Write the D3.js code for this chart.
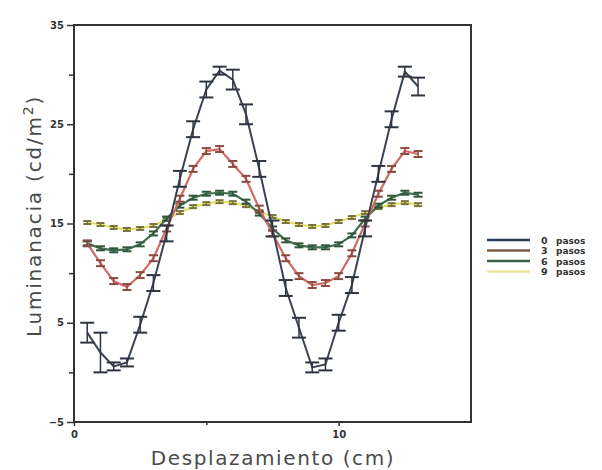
<!DOCTYPE html>
<html><head><meta charset="utf-8">
<script src="https://cdn.jsdelivr.net/npm/d3@7"></script>
<style>body{margin:0;background:#fff}svg{display:block}</style>
</head><body><svg id="c" width="602" height="470"></svg>
<script>
const positions = [0.5,1.0,1.5,2.0,2.5,3.0,3.5,4.0,4.5,5.0,5.5,6.0,6.5,7.0,7.5,8.0,8.5,9.0,9.5,10.0,10.5,11.0,11.5,12.0,12.5,13.0];
const pasos0 = [4.0,2.0,0.6,1.0,4.8,9.0,14.0,19.5,24.5,28.5,30.4,29.5,26.0,20.5,14.5,8.5,4.5,0.5,0.8,5.0,8.8,14.5,20.0,25.5,30.3,28.8];
const err0   = [1.0,2.0,0.4,0.4,0.8,0.8,0.8,0.8,0.8,0.8,0.4,1.0,1.0,0.8,0.8,0.8,1.0,0.5,0.6,0.8,0.8,0.8,0.8,0.8,0.5,0.9];
const pasos3 = [13.0,11.0,9.2,8.6,9.8,11.5,14.5,17.5,20.5,22.3,22.5,21.0,19.5,16.5,14.0,11.5,9.7,8.8,9.0,9.7,12.0,15.0,18.0,20.5,22.3,22.0];
const err3   = [0.3,0.3,0.3,0.3,0.3,0.3,0.3,0.3,0.3,0.3,0.3,0.3,0.3,0.3,0.3,0.3,0.3,0.3,0.3,0.3,0.3,0.3,0.3,0.3,0.3,0.3];
const pasos6 = [13.0,12.5,12.3,12.4,12.9,14.0,15.5,16.8,17.6,18.0,18.1,18.0,17.2,16.0,14.5,13.3,12.8,12.6,12.6,12.9,13.8,15.5,16.8,17.6,18.1,17.9];
const err6   = [0.2,0.2,0.2,0.2,0.2,0.2,0.2,0.2,0.2,0.2,0.2,0.2,0.2,0.2,0.2,0.2,0.2,0.2,0.2,0.2,0.2,0.2,0.2,0.2,0.2,0.2];
const pasos9 = [15.1,14.9,14.6,14.4,14.5,14.8,15.4,16.1,16.7,17.0,17.2,17.1,16.8,16.2,15.7,15.2,14.9,14.7,14.8,15.2,15.6,16.1,16.6,16.9,17.1,16.9];
const err9   = [0.15,0.15,0.15,0.15,0.15,0.15,0.15,0.15,0.15,0.15,0.15,0.15,0.15,0.15,0.15,0.15,0.15,0.15,0.15,0.15,0.15,0.15,0.15,0.15,0.15,0.15];
const seriesNames = ["0","3","6","9"];
const yMajorTicks = [-5,5,15,25,35];
const yMinorTicks = [0,10,20,30];
const xMajorTicks = [0,10];
const xMinorTicks = [5];

const series = [
  {name: seriesNames[0], vals: pasos0, err: err0, color: "#3b4352", cap: "#2e3440", capW: 14, legend: "#2c3e57"},
  {name: seriesNames[1], vals: pasos3, err: err3, color: "#d16b63", cap: "#8a4a40", capW: 9, legend: "#7a5a45"},
  {name: seriesNames[2], vals: pasos6, err: err6, color: "#3f6e4e", cap: "#2f5638", capW: 9, legend: "#3d5f45"},
  {name: seriesNames[3], vals: pasos9, err: err9, color: "#e6df6a", cap: "#77723e", capW: 8, legend: "#ebe79c"}
];

const svg = d3.select("#c");
const L = 74, R = 471, T = 25, B = 422;
const x = d3.scaleLinear().domain([0,15]).range([L,R]);
const y = d3.scaleLinear().domain([-5,35]).range([B,T]);
const font = "'DejaVu Sans', sans-serif";
const txt = "#4a4a4a";

const line = d3.line().x((d,i)=>x(positions[i])).y(d=>y(d));
[3,2,1,0].forEach(si => {
  const s = series[si];
  const g = svg.append("g");
  g.append("path").datum(s.vals).attr("d", line)
    .attr("fill","none").attr("stroke", s.color).attr("stroke-width", si===0?2:2.2);
  s.vals.forEach((v,i) => {
    const px = x(positions[i]);
    const e = s.err[i];
    g.append("line").attr("x1",px).attr("x2",px).attr("y1",y(v-e)).attr("y2",y(v+e))
      .attr("stroke", s.cap).attr("stroke-width",1.5);
    [v-e, v+e].forEach(c => {
      g.append("line").attr("x1",px-s.capW/2).attr("x2",px+s.capW/2)
        .attr("y1",y(c)).attr("y2",y(c)).attr("stroke", s.cap).attr("stroke-width",2);
    });
  });
});

svg.append("rect").attr("x",L).attr("y",T).attr("width",R-L).attr("height",B-T)
  .attr("fill","none").attr("stroke","#333").attr("stroke-width",2);

const yAxis = d3.axisLeft(y).tickValues(yMajorTicks).tickSize(7).tickPadding(3).tickFormat(d3.format("d"));
const gy = svg.append("g").attr("transform",`translate(${L},0)`).call(yAxis);
gy.select(".domain").remove();
gy.selectAll(".tick line").attr("stroke","#333").attr("stroke-width",1.5);
gy.selectAll(".tick text").attr("font-family",font).attr("font-size",10).attr("font-weight","bold").attr("fill","#333");
const yMinor = d3.axisLeft(y).tickValues(yMinorTicks).tickSize(5).tickFormat("");
const gym = svg.append("g").attr("transform",`translate(${L},0)`).call(yMinor);
gym.select(".domain").remove();
gym.selectAll(".tick line").attr("stroke","#333").attr("stroke-width",1.5);

const xAxis = d3.axisBottom(x).tickValues(xMajorTicks).tickSize(4).tickPadding(5).tickFormat(d3.format("d"));
const gx = svg.append("g").attr("transform",`translate(0,${B})`).call(xAxis);
gx.select(".domain").remove();
gx.selectAll(".tick line").attr("stroke","#333").attr("stroke-width",1.5);
gx.selectAll(".tick text").attr("font-family",font).attr("font-size",10).attr("font-weight","bold").attr("fill","#333");
const xMinor = d3.axisBottom(x).tickValues(xMinorTicks).tickSize(3).tickFormat("");
const gxm = svg.append("g").attr("transform",`translate(0,${B})`).call(xMinor);
gxm.select(".domain").remove();
gxm.selectAll(".tick line").attr("stroke","#333").attr("stroke-width",1.5);

svg.append("text").attr("x",273).attr("y",465).attr("text-anchor","middle")
  .attr("font-family",font).attr("font-size",20).attr("letter-spacing",1.6).attr("fill",txt)
  .text("Desplazamiento  (cm)");
const yl = svg.append("text").attr("transform","translate(41,216) rotate(-90)").attr("text-anchor","middle")
  .attr("font-family",font).attr("font-size",20).attr("letter-spacing",1.8).attr("fill",txt);
yl.append("tspan").text("Luminanacia  (cd/m");
yl.append("tspan").attr("font-size",14).attr("dy",-8).text("2");
yl.append("tspan").attr("dy",8).text(")");

const lg = svg.append("g");
series.forEach((s,i) => {
  const ly = 240 + i*10.5;
  lg.append("line").attr("x1",487).attr("x2",530).attr("y1",ly).attr("y2",ly)
    .attr("stroke", s.legend).attr("stroke-width",2.5);
  lg.append("text").attr("x",541).attr("y",ly+3.5).attr("font-family",font).attr("font-size",9.5)
    .attr("font-weight","bold").attr("fill","#333").text(s.name);
  lg.append("text").attr("x",556).attr("y",ly+3.5).attr("font-family",font).attr("font-size",9)
    .attr("font-weight","bold").attr("fill","#333").text("pasos");
});
</script></body></html>
